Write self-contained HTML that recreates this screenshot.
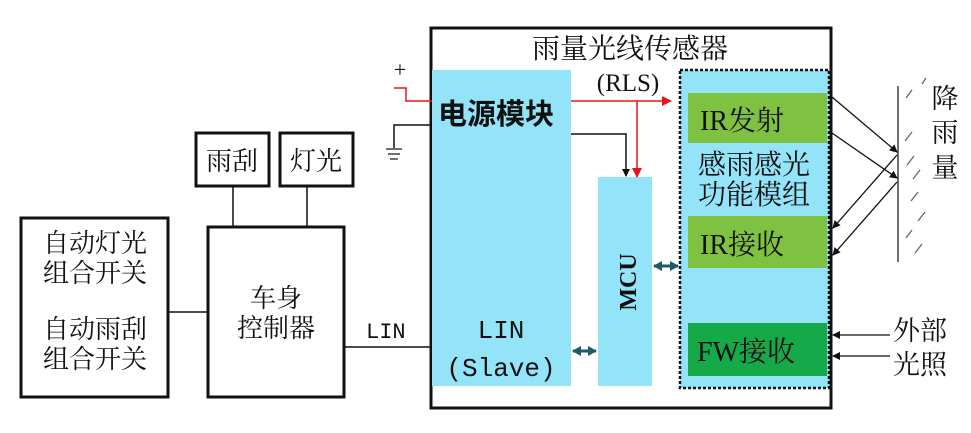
<!DOCTYPE html>
<html><head><meta charset="utf-8"><style>
body{margin:0;width:971px;height:428px;background:#fff;overflow:hidden}
svg text{font-family:"Liberation Serif","Noto Serif CJK SC",serif;fill:#111}
</style></head><body>
<svg width="971" height="428" viewBox="0 0 971 428" xmlns="http://www.w3.org/2000/svg">
<defs>
<marker id="ab" markerWidth="8" markerHeight="8" refX="7" refY="4" orient="auto" markerUnits="userSpaceOnUse"><path d="M0,0 L8,4 L0,8 z" fill="#111"/></marker>
<marker id="ar" markerWidth="10" markerHeight="10" refX="9" refY="5" orient="auto" markerUnits="userSpaceOnUse"><path d="M0,0 L10,5 L0,10 z" fill="#e8141c"/></marker>
<marker id="at" markerWidth="9" markerHeight="10" refX="8" refY="5" orient="auto" markerUnits="userSpaceOnUse"><path d="M0,0 L9,5 L0,10 z" fill="#1e5a6a"/></marker>
<marker id="atr" markerWidth="9" markerHeight="10" refX="1" refY="5" orient="auto" markerUnits="userSpaceOnUse"><path d="M9,0 L0,5 L9,10 z" fill="#1e5a6a"/></marker>
</defs>
<rect x="21" y="218" width="147" height="179" fill="none" stroke="#111" stroke-width="3"/>
<g font-size="26" text-anchor="middle">
<text x="95" y="252">自动灯光</text><text x="95" y="282">组合开关</text>
<text x="95" y="338">自动雨刮</text><text x="95" y="368">组合开关</text>
</g>
<rect x="208" y="227" width="136" height="170" fill="none" stroke="#111" stroke-width="3"/>
<text x="276" y="307" font-size="26" text-anchor="middle">车身</text>
<text x="276" y="337" font-size="26" text-anchor="middle">控制器</text>
<rect x="196" y="133" width="73" height="53" fill="none" stroke="#111" stroke-width="3"/>
<rect x="280" y="133" width="73" height="53" fill="none" stroke="#111" stroke-width="3"/>
<text x="232" y="170" font-size="26" text-anchor="middle">雨刮</text>
<text x="316" y="170" font-size="26" text-anchor="middle">灯光</text>
<g stroke="#111" stroke-width="1.5" fill="none">
<line x1="233" y1="186" x2="233" y2="227"/><line x1="307" y1="186" x2="307" y2="227"/>
<line x1="168" y1="312" x2="208" y2="312"/><line x1="344" y1="347" x2="430" y2="347"/>
</g>
<text x="366" y="338" font-size="22" style="font-family:'Liberation Mono',monospace">LIN</text>
<rect x="431" y="28" width="400" height="380" fill="#fff" stroke="#111" stroke-width="3"/>
<text x="630" y="58" font-size="28" text-anchor="middle">雨量光线传感器</text>
<text x="628" y="91" font-size="25" text-anchor="middle">(RLS)</text>
<rect x="432" y="70" width="139" height="316" fill="#93e4f8"/>
<rect x="598" y="177" width="54" height="209" fill="#93e4f8"/>
<rect x="680" y="70" width="149" height="318" fill="#93e4f8" stroke="#111" stroke-width="2.5" stroke-dasharray="3,2"/>
<rect x="688" y="93" width="139" height="50" fill="#7fc241"/>
<rect x="688" y="216" width="139" height="52" fill="#7fc241"/>
<rect x="688" y="323" width="139" height="53" fill="#15a94a"/>
<text x="438" y="124" font-size="29" font-weight="bold" style="font-family:'Liberation Sans','Noto Sans CJK SC',sans-serif">电源模块</text>
<text x="501" y="338" font-size="26" text-anchor="middle" style="font-family:'Liberation Mono',monospace">LIN</text>
<text x="501" y="376" font-size="26" text-anchor="middle" style="font-family:'Liberation Mono',monospace">(Slave)</text>
<text transform="translate(636,282) rotate(-90)" font-size="24" font-weight="bold" text-anchor="middle">MCU</text>
<text x="700" y="130" font-size="28">IR发射</text>
<text x="754" y="174" font-size="28" text-anchor="middle">感雨感光</text>
<text x="754" y="204" font-size="28" text-anchor="middle">功能模组</text>
<text x="700" y="254" font-size="28">IR接收</text>
<text x="697" y="361" font-size="28">FW接收</text>
<text x="400" y="77" font-size="22" text-anchor="middle">+</text>
<polyline points="394,88 406,88 406,101 432,101" fill="none" stroke="#e8141c" stroke-width="1.5"/>
<line x1="571" y1="101" x2="671" y2="101" stroke="#e8141c" stroke-width="1.5" marker-end="url(#ar)"/>
<line x1="637" y1="101" x2="637" y2="177" stroke="#e8141c" stroke-width="1.5" marker-end="url(#ar)"/>
<polyline points="571,134 626,134 626,176" fill="none" stroke="#111" stroke-width="1.5" marker-end="url(#ab)"/>
<polyline points="432,125 394,125 394,148" fill="none" stroke="#111" stroke-width="1.5"/>
<g stroke="#111" stroke-width="1.2"><line x1="386" y1="149" x2="402" y2="149"/><line x1="388" y1="154" x2="400" y2="154"/><line x1="390" y1="159" x2="398" y2="159"/></g>
<line x1="654" y1="266" x2="678" y2="266" stroke="#1e5a6a" stroke-width="3" marker-end="url(#at)" marker-start="url(#atr)"/>
<line x1="573" y1="351" x2="596" y2="351" stroke="#1e5a6a" stroke-width="3" marker-end="url(#at)" marker-start="url(#atr)"/>
<line x1="898" y1="86" x2="898" y2="262" stroke="#111" stroke-width="1.2"/>
<g stroke="#111" stroke-width="1.3">
<line x1="832" y1="97" x2="897" y2="152" marker-end="url(#ab)"/>
<line x1="832" y1="133" x2="897" y2="178" marker-end="url(#ab)"/>
<line x1="897" y1="155" x2="833" y2="228" marker-end="url(#ab)"/>
<line x1="897" y1="182" x2="833" y2="255" marker-end="url(#ab)"/>
<line x1="890" y1="335" x2="833" y2="335" marker-end="url(#ab)"/>
<line x1="890" y1="356" x2="833" y2="356" marker-end="url(#ab)"/>
</g>
<g stroke="#666" stroke-width="1.3">
<line x1="912" y1="90" x2="906" y2="98"/><line x1="926" y1="78" x2="922" y2="84"/><line x1="912" y1="132" x2="905" y2="141"/>
<line x1="914" y1="156" x2="907" y2="165"/><line x1="920" y1="170" x2="913" y2="179"/><line x1="918" y1="192" x2="911" y2="201"/>
<line x1="925" y1="212" x2="918" y2="221"/><line x1="912" y1="230" x2="906" y2="238"/><line x1="922" y1="244" x2="915" y2="253"/>
</g>
<g font-size="27" text-anchor="middle"><text x="945" y="108">降</text><text x="945" y="142">雨</text><text x="945" y="177">量</text></g>
<text x="893" y="340" font-size="27">外部</text>
<text x="893" y="374" font-size="27">光照</text>
</svg>
</body></html>
